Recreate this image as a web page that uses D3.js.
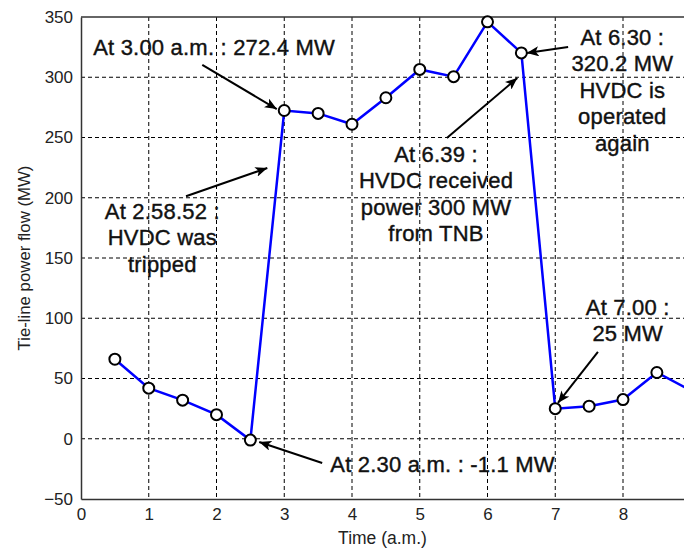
<!DOCTYPE html>
<html>
<head>
<meta charset="utf-8">
<script src="https://cdn.jsdelivr.net/npm/d3@7"></script>
<style>
  body { margin: 0; background: #fff; }
  svg { display: block; }
</style>
</head>
<body>
<svg width="684" height="550"></svg>
<script>
// data: time of day (a.m.) vs tie-line power flow (MW)
const times = [0.5, 1, 1.5, 2, 2.5, 3, 3.5, 4, 4.5, 5, 5.5, 6, 6.5, 7, 7.5, 8, 8.5, 9];
const flows = [66, 42, 32, 20, -1.1, 272.4, 270, 261, 283, 306.5, 300.5, 346, 320.2, 25, 27, 32.5, 55, 40];

const xTicks = [0, 1, 2, 3, 4, 5, 6, 7, 8];
const yTicks = [-50, 0, 50, 100, 150, 200, 250, 300, 350];

// annotation text, anchored in data units; arrows go from (x1,y1) to (x2,y2)
const noteLines = [
    ['At 3.00 a.m. : 272.4 MW'],
    ['At 2.58.52 :', 'HVDC was', 'tripped'],
    ['At 2.30 a.m. : -1.1 MW'],
    ['At 6.39 :', 'HVDC received', 'power 300 MW', 'from TNB'],
    ['At 6.30 :', '320.2 MW', 'HVDC is', 'operated', 'again'],
    ['At 7.00 :', '25 MW']
];
const noteX = [0.18, 1.2, 3.68, 5.24, 7.99, 8.07];
const noteY = [318.5, 182.4, -27.6, 229.7, 326.8, 102.7];
const noteAnchor = ['start', 'middle', 'start', 'middle', 'middle', 'middle'];
const arrowFrom = [[1.79, 310.2], [1.55, 201.3], [3.56, -20.1], [5.40, 249.6], [7.19, 325.1], [7.63, 72.0]];
const arrowTo = [[2.89, 273.6], [2.75, 224.7], [2.63, -2.7], [6.44, 299.4], [6.58, 320.1], [7.04, 29.7]];

const svg = d3.select('svg');
const width = +svg.attr('width');
const height = +svg.attr('height');

const margin = { left: 81, top: 17, bottom: 51 };
const unitX = 67.75;

const x = d3.scaleLinear()
    .domain([0, 9])
    .range([margin.left, margin.left + 9 * unitX]);

const y = d3.scaleLinear()
    .domain([-50, 350])
    .range([height - margin.bottom, margin.top]);

const font = '"Liberation Sans", Arial, sans-serif';

// grid
const grid = svg.append('g')
    .attr('stroke', '#000')
    .attr('stroke-width', 1)
    .attr('stroke-dasharray', '4,3');

grid.selectAll('.vgrid')
    .data(xTicks.filter(d => d > 0))
    .join('line')
    .attr('x1', d => x(d))
    .attr('x2', d => x(d))
    .attr('y1', y(350))
    .attr('y2', y(-50));

grid.selectAll('.hgrid')
    .data(yTicks.filter(d => d > -50 && d < 350))
    .join('line')
    .attr('x1', x(0))
    .attr('x2', width)
    .attr('y1', d => y(d))
    .attr('y2', d => y(d));

// axes
const xAxis = svg.append('g')
    .attr('transform', `translate(0,${y(-50)})`)
    .call(d3.axisBottom(x).tickValues(xTicks).tickSize(0).tickPadding(9));

const yAxis = svg.append('g')
    .attr('transform', `translate(${x(0)},0)`)
    .call(d3.axisLeft(y).tickValues(yTicks).tickSize(0).tickPadding(8));

[xAxis, yAxis].forEach(a => {
    a.select('.domain').attr('stroke', '#333').attr('stroke-width', 1.5);
    a.selectAll('text')
        .attr('font-family', font)
        .attr('font-size', 17)
        .attr('fill', '#222');
});

// top border
svg.append('line')
    .attr('x1', x(0))
    .attr('x2', width)
    .attr('y1', y(350))
    .attr('y2', y(350))
    .attr('stroke', '#333')
    .attr('stroke-width', 1.5);

svg.append('text')
    .attr('x', (x(0) + width) / 2)
    .attr('y', 544)
    .attr('text-anchor', 'middle')
    .attr('font-family', font)
    .attr('font-size', 17.5)
    .attr('fill', '#222')
    .text('Time (a.m.)');

svg.append('text')
    .attr('transform', `translate(30,${(y(350) + y(-50)) / 2}) rotate(-90)`)
    .attr('text-anchor', 'middle')
    .attr('font-family', font)
    .attr('font-size', 16.8)
    .attr('fill', '#222')
    .text('Tie-line power flow (MW)');

// series
const points = times.map((t, i) => [t, flows[i]]);

svg.append('path')
    .datum(points)
    .attr('fill', 'none')
    .attr('stroke', '#0000ff')
    .attr('stroke-width', 2.5)
    .attr('d', d3.line().x(d => x(d[0])).y(d => y(d[1])));

svg.selectAll('.pt')
    .data(points)
    .join('circle')
    .attr('cx', d => x(d[0]))
    .attr('cy', d => y(d[1]))
    .attr('r', 5.5)
    .attr('fill', '#fff')
    .attr('stroke', '#000')
    .attr('stroke-width', 2);

// arrows
svg.append('defs')
    .append('marker')
    .attr('id', 'head')
    .attr('viewBox', '0 0 12 10')
    .attr('refX', 12)
    .attr('refY', 5)
    .attr('markerWidth', 12)
    .attr('markerHeight', 10)
    .attr('markerUnits', 'userSpaceOnUse')
    .attr('orient', 'auto')
    .append('path')
    .attr('d', 'M0,0 L12,5 L0,10 L3,5 Z')
    .attr('fill', '#000');

svg.selectAll('.arrow')
    .data(arrowFrom)
    .join('line')
    .attr('x1', d => x(d[0]))
    .attr('y1', d => y(d[1]))
    .attr('x2', (d, i) => x(arrowTo[i][0]))
    .attr('y2', (d, i) => y(arrowTo[i][1]))
    .attr('stroke', '#000')
    .attr('stroke-width', 2)
    .attr('marker-end', 'url(#head)');

// annotation text
const lineStep = 26.5;
noteLines.forEach((lines, i) => {
    const t = svg.append('text')
        .attr('font-family', font)
        .attr('font-size', 22)
        .attr('letter-spacing', 0.2)
        .attr('fill', '#111')
        .attr('stroke', '#111')
        .attr('stroke-width', 0.4)
        .attr('text-anchor', noteAnchor[i]);
    lines.forEach((s, j) => {
        t.append('tspan')
            .attr('x', x(noteX[i]))
            .attr('y', y(noteY[i]) + j * lineStep)
            .text(s);
    });
});
</script>
</body>
</html>
